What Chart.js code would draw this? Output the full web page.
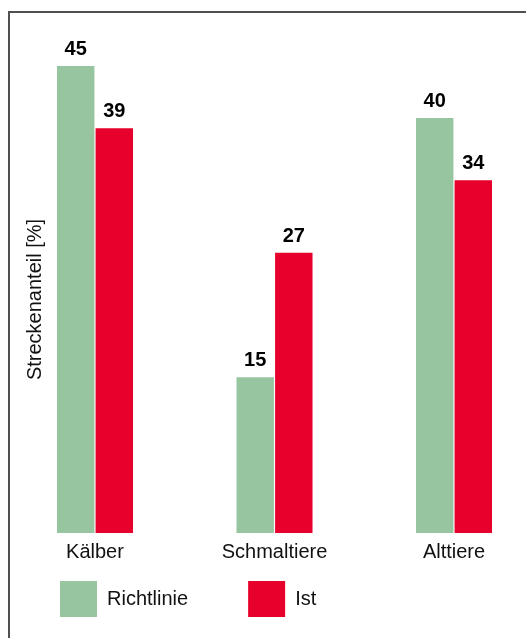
<!DOCTYPE html>
<html>
<head>
<meta charset="utf-8">
<script src="https://cdn.jsdelivr.net/npm/chart.js@4.4.1/dist/chart.umd.min.js"></script>
<style>
  html, body { margin: 0; padding: 0; background: #fff; }
  .wrap { position: relative; width: 526px; height: 638px; overflow: hidden; }
  .wrap::before {
    content: ""; position: absolute; left: 8px; top: 11px; right: -20px; bottom: -20px;
    border-left: 2px solid #505050; border-top: 2px solid #505050; pointer-events: none;
  }
</style>
</head>
<body>
<div class="wrap"><canvas id="streckeChart" width="526" height="638"></canvas></div>
<script>
const categories = ["Kälber", "Schmaltiere", "Alttiere"]
const richtlinie = [45, 15, 40]
const ist = [39, 27, 34]

const FONT = '"Liberation Sans", Arial, sans-serif'

// bold numbers above each bar
const valueLabels = {
  id: 'valueLabels',
  afterDatasetsDraw(chart) {
    const ctx = chart.ctx
    ctx.save()
    ctx.font = 'bold 20px ' + FONT
    ctx.fillStyle = '#000'
    ctx.textAlign = 'center'
    ctx.textBaseline = 'alphabetic'
    chart.data.datasets.forEach((ds, i) => {
      chart.getDatasetMeta(i).data.forEach((bar, j) => {
        ctx.fillText(ds.data[j], bar.x, bar.y - 11)
      })
    })
    ctx.restore()
  }
}

// the wide label padding gives the right gaps between items, pull the row back up
const legendSpot = {
  id: 'legendSpot',
  afterLayout(chart) {
    chart.legend.top -= 50
  }
}

new Chart(document.getElementById('streckeChart'), {
  type: 'bar',
  data: {
    labels: categories,
    datasets: [{
      label: 'Richtlinie',
      data: richtlinie,
      backgroundColor: '#97c5a0',
      borderWidth: 0,
      clip: false
    }, {
      label: 'Ist',
      data: ist,
      backgroundColor: '#e6002b',
      borderWidth: 0,
      clip: false
    }]
  },
  options: {
    responsive: false,
    animation: false,
    barPercentage: 0.97,
    categoryPercentage: 0.43,
    layout: {
      padding: { left: 0, top: 66, right: 72, bottom: 0 }
    },
    plugins: {
      legend: {
        position: 'bottom',
        align: 'start',
        maxHeight: 67,
        labels: {
          boxWidth: 37,
          boxHeight: 36,
          padding: 60,
          color: '#111',
          font: { family: FONT, size: 20 }
        }
      },
      tooltip: { enabled: false }
    },
    scales: {
      x: {
        offset: false,
        grid: { display: false, drawTicks: false },
        border: { display: false },
        ticks: {
          padding: 7,
          color: '#111',
          font: { family: FONT, size: 20 }
        }
      },
      y: {
        min: 0,
        max: 45,
        grid: { display: false, drawTicks: false },
        border: { display: false },
        ticks: { display: false },
        title: {
          display: true,
          text: 'Streckenanteil [%]',
          color: '#111',
          padding: { top: 23, bottom: 48 },
          font: { family: FONT, size: 20 }
        }
      }
    }
  },
  plugins: [valueLabels, legendSpot]
})
</script>
</body>
</html>
